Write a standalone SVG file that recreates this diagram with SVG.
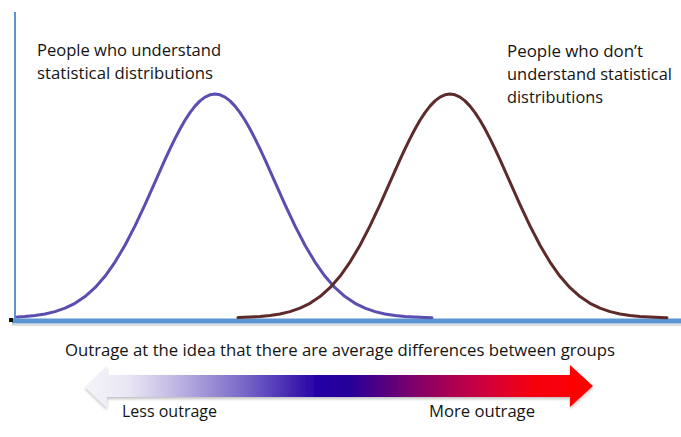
<svg xmlns="http://www.w3.org/2000/svg" width="681" height="437" viewBox="0 0 681 437">
<style>
.lbl{font-family:"Open Sans","Liberation Sans",sans-serif;font-size:16px;fill:#141414}
.big{font-size:17px}
.curve{fill:none;stroke-width:3;stroke-linejoin:round;stroke-linecap:round}
.axis{stroke:#5b96d0;fill:none}
</style>
<defs>
<linearGradient id="outrage" gradientUnits="userSpaceOnUse" x1="85" y1="0" x2="593" y2="0">
<stop offset="0" stop-color="#f4f3f8"/>
<stop offset="0.08" stop-color="#ebe8f5"/>
<stop offset="0.16" stop-color="#c9c1e6"/>
<stop offset="0.32" stop-color="#7563c6"/>
<stop offset="0.46" stop-color="#2400a4"/>
<stop offset="0.52" stop-color="#26009a"/>
<stop offset="0.66" stop-color="#870066"/>
<stop offset="0.78" stop-color="#cc003f"/>
<stop offset="0.88" stop-color="#f5000f"/>
<stop offset="1" stop-color="#ff0000"/>
</linearGradient>
<filter id="sh" x="-5%" y="-30%" width="110%" height="170%">
<feGaussianBlur in="SourceAlpha" stdDeviation="1.5"/>
<feOffset dx="0" dy="2" result="b"/>
<feComponentTransfer><feFuncA type="linear" slope="0.25"/></feComponentTransfer>
<feMerge><feMergeNode/><feMergeNode in="SourceGraphic"/></feMerge>
</filter>
</defs>
<rect width="681" height="437" fill="#ffffff"/>
<g id="axes">
<line class="axis" x1="15" y1="12" x2="15" y2="321" stroke-width="2"/>
<line x1="12" y1="325" x2="681" y2="325" stroke="#c8c8c8" stroke-width="2" opacity="0.6"/>
<line class="axis" x1="12" y1="321" x2="681" y2="321" stroke-width="5"/>
<rect x="9" y="318" width="4" height="4" fill="#111"/>
</g>
<g id="connectors">
<path id="curve-understand" class="curve" stroke="#5a4fb0" d="M17,317 L25,316.5 35,315.5 45,314 55,311.6 65,308.2 75,303.3 85,296.6 95,287.7 105,276.3 115,262.1 125,245.3 135,225.9 145,204.6 155,182.1 165,159.7 170,148.9 175,138.6 180,129 185,120.3 190,112.6 195,106.1 200,100.9 205,97.1 210,94.8 215,94 220,94.8 225,97.1 230,100.9 235,106.1 240,112.6 245,120.3 250,129 255,138.6 260,148.9 265,159.7 275,182.1 285,204.6 295,225.9 305,245.3 315,262.1 325,276.3 335,287.7 345,296.6 355,303.3 365,308.2 375,311.6 385,314 395,315.5 405,316.5 415,317.1 425,317.5 432,317.7"/>
<path id="curve-dont" class="curve" stroke="#5e2b2b" d="M238,317.6 L250,317.1 260,316.5 270,315.5 280,314 290,311.6 300,308.2 310,303.3 320,296.6 330,287.7 340,276.3 350,262.1 360,245.3 370,225.9 380,204.6 390,182.1 400,159.7 405,148.9 410,138.6 415,129 420,120.3 425,112.6 430,106.1 435,100.9 440,97.1 445,94.8 450,94 455,94.8 460,97.1 465,100.9 470,106.1 475,112.6 480,120.3 485,129 490,138.6 495,148.9 500,159.7 510,182.1 520,204.6 530,225.9 540,245.3 550,262.1 560,276.3 570,287.7 580,296.6 590,303.3 600,308.2 610,311.6 620,314 630,315.5 640,316.5 650,317.1 660,317.5 667,317.7"/>
</g>
<g id="label-understand">
<text class="lbl" x="37" y="56" textLength="184" lengthAdjust="spacingAndGlyphs">People who understand</text>
<text class="lbl" x="37" y="79" textLength="176" lengthAdjust="spacingAndGlyphs">statistical distributions</text>
</g>
<g id="label-dont">
<text class="lbl" x="507" y="57" textLength="136" lengthAdjust="spacingAndGlyphs">People who don’t</text>
<text class="lbl" x="507" y="80" textLength="165" lengthAdjust="spacingAndGlyphs">understand statistical</text>
<text class="lbl" x="507" y="103" textLength="96" lengthAdjust="spacingAndGlyphs">distributions</text>
</g>
<g id="axis-title">
<text class="lbl big" x="65" y="356" textLength="550" lengthAdjust="spacingAndGlyphs">Outrage at the idea that there are average differences between groups</text>
</g>
<g id="outrage-arrow">
<path filter="url(#sh)" fill="url(#outrage)" d="M85,387 L107,366 L107,375 L570,375 L570,365 L593,386 L570,407 L570,397 L107,397 L107,408 Z"/>
</g>
<g id="label-less">
<text class="lbl" x="122" y="417" textLength="95" lengthAdjust="spacingAndGlyphs">Less outrage</text>
</g>
<g id="label-more">
<text class="lbl" x="429" y="417" textLength="106" lengthAdjust="spacingAndGlyphs">More outrage</text>
</g>
</svg>
